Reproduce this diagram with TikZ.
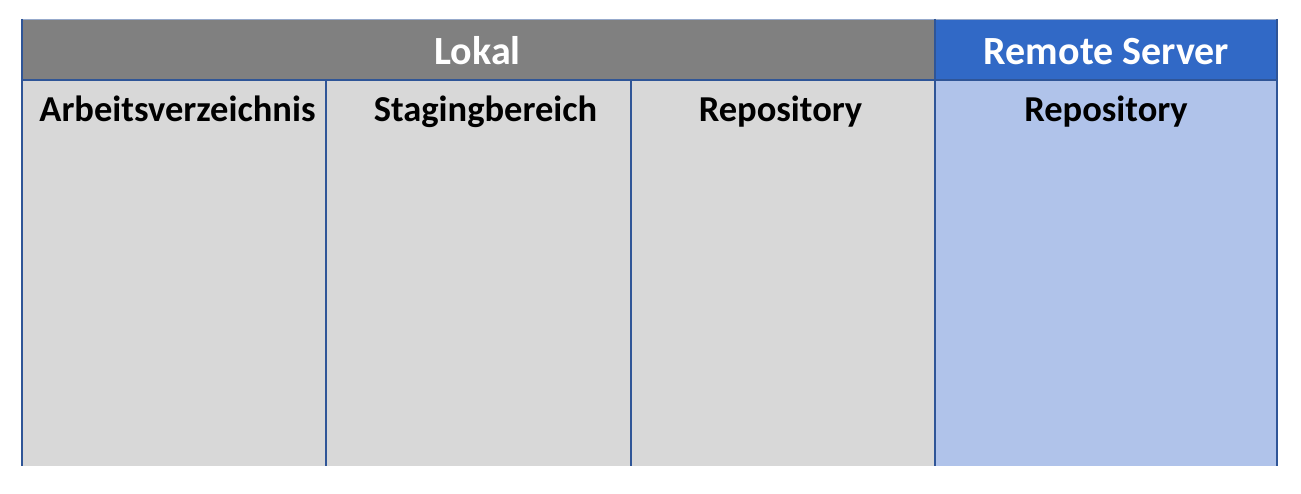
\documentclass[tikz,border=0pt]{standalone}
\usepackage{fontspec}
\setmainfont{Carlito}
\definecolor{hdrgray}{HTML}{808080}
\definecolor{hdrblue}{HTML}{3169C6}
\definecolor{cellgray}{HTML}{D8D8D8}
\definecolor{cellblue}{HTML}{B0C3EA}
\definecolor{rule}{HTML}{2F5597}
\begin{document}
\begin{tikzpicture}[x=1pt,y=-1pt,
  hdrtext/.style={font=\bfseries\fontsize{40}{48}\selectfont, text=white, anchor=base, inner sep=0pt},
  coltext/.style={font=\bfseries\fontsize{36.5}{44}\selectfont, text=black, anchor=base, inner sep=0pt},
  colrule/.style={draw=rule, line width=1.2pt}]
\useasboundingbox (0,0) rectangle (1301,494);
% cell backgrounds
\fill[cellgray] (22,80) rectangle (935,466);
\fill[cellblue] (935,80) rectangle (1277,466);
% header bands
\fill[hdrgray] (22,19) rectangle (935,80);
\fill[hdrblue] (935,19) rectangle (1277,80);
% table rules
\draw[draw=rule!50, line width=1pt] (22,19.5) -- (1277,19.5);
\draw[colrule] (22,19) -- (22,466);
\draw[colrule] (326,80) -- (326,466);
\draw[colrule] (631,80) -- (631,466);
\draw[colrule] (935,19) -- (935,466);
\draw[colrule] (1277,19) -- (1277,466);
\draw[draw=rule, line width=2.5pt] (22,80) -- (1277,80);
% header labels
\node[hdrtext] (lokal) at (477.5,64.5) {Lokal};
\node[hdrtext] (remote) at (1106.5,64.5) {Remote Server};
% column labels
\node[coltext] (arbeit) at (177.5,121.5) {Arbeitsverzeichnis};
\node[coltext] (staging) at (485.5,121.5) {Stagingbereich};
\node[coltext] (repo) at (780.5,121.5) {Repository};
\node[coltext] (remrepo) at (1106,121.5) {Repository};
\end{tikzpicture}
\end{document}
